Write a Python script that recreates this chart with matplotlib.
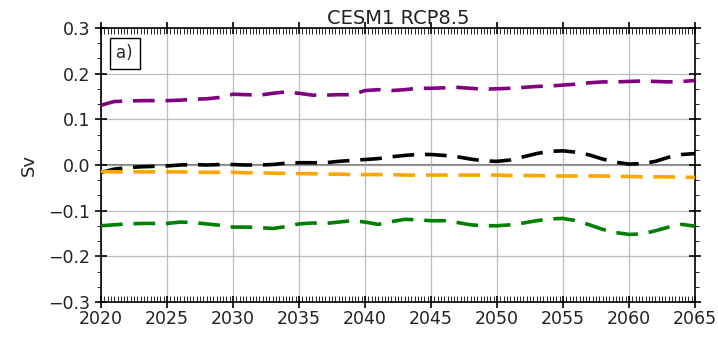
import numpy as np
import matplotlib as mpl
import matplotlib.pyplot as plt
from matplotlib.ticker import MultipleLocator, AutoMinorLocator
# -------------------------------------------------------------------------------------------------

mpl.use('AGG')

years = list(range(2020, 2066))

# Transport anomalies (Sv), one value per year
purple_sv = [0.131, 0.139, 0.140, 0.141, 0.141, 0.141, 0.142, 0.144, 0.145, 0.148,
	0.155, 0.154, 0.153, 0.157, 0.160, 0.157, 0.153, 0.153, 0.154, 0.154,
	0.163, 0.165, 0.163, 0.165, 0.168, 0.168, 0.169, 0.170, 0.168, 0.166,
	0.167, 0.168, 0.170, 0.172, 0.173, 0.175, 0.177, 0.180, 0.182, 0.182,
	0.183, 0.184, 0.183, 0.182, 0.183, 0.185]

black_sv = [-0.016, -0.009, -0.006, -0.004, -0.003, -0.002, 0.000, 0.001, 0.000, 0.001,
	0.001, 0.000, 0.000, 0.001, 0.004, 0.005, 0.005, 0.005, 0.008, 0.010,
	0.012, 0.014, 0.018, 0.021, 0.023, 0.023, 0.021, 0.018, 0.013, 0.009,
	0.008, 0.011, 0.018, 0.025, 0.030, 0.031, 0.028, 0.022, 0.013, 0.006,
	0.002, 0.003, 0.008, 0.017, 0.023, 0.025]

orange_sv = [-0.014, -0.015, -0.015, -0.015, -0.015, -0.015, -0.015, -0.016, -0.016, -0.016,
	-0.016, -0.017, -0.017, -0.018, -0.018, -0.019, -0.019, -0.020, -0.020, -0.021,
	-0.021, -0.021, -0.021, -0.022, -0.022, -0.022, -0.022, -0.022, -0.022, -0.022,
	-0.022, -0.023, -0.023, -0.023, -0.024, -0.024, -0.024, -0.024, -0.024, -0.025,
	-0.025, -0.026, -0.026, -0.026, -0.027, -0.027]

green_sv = [-0.133, -0.131, -0.129, -0.128, -0.128, -0.128, -0.125, -0.126, -0.129, -0.132,
	-0.136, -0.136, -0.137, -0.139, -0.135, -0.129, -0.127, -0.128, -0.125, -0.122,
	-0.125, -0.130, -0.124, -0.119, -0.120, -0.122, -0.122, -0.126, -0.131, -0.133,
	-0.133, -0.131, -0.127, -0.122, -0.118, -0.117, -0.122, -0.131, -0.141, -0.148,
	-0.152, -0.151, -0.144, -0.136, -0.130, -0.134]

(fig, ax) = plt.subplots(figsize=(7.18, 3.4), dpi=100)
fig.subplots_adjust(left=0.1407, right=0.968, top=0.9176, bottom=0.1118)

# Grid and zero line
ax.grid(which='major', color='darkgrey', linewidth=0.9, alpha=0.75)
ax.axhline(0, color='grey', linewidth=1.5, zorder=1)

for (vals, col) in ((purple_sv, 'purple'), (black_sv, 'black'),
		(orange_sv, 'orange'), (green_sv, 'green')):
	ax.plot(years, vals, color=col, linewidth=2.6, linestyle=(0, (6, 3)),
		solid_capstyle='round', zorder=3)

ax.set_xlim(2020, 2065)
ax.set_ylim(-0.3, 0.3)
ax.xaxis.set_major_locator(MultipleLocator(5))
ax.xaxis.set_minor_locator(MultipleLocator(0.25))
ax.yaxis.set_major_locator(MultipleLocator(0.1))
ax.yaxis.set_minor_locator(AutoMinorLocator(3))
ax.yaxis.set_major_formatter('{x:.1f}')

ax.tick_params(axis='x', which='major', direction='inout', length=8, width=1.2,
	top=True, labelsize=12.5, pad=2, labelcolor='#222222')
ax.tick_params(axis='x', which='minor', direction='in', length=4, width=0.6, top=True)
ax.tick_params(axis='y', which='major', direction='inout', length=8, width=1.2,
	right=True, labelsize=12.5, labelcolor='#222222')
ax.tick_params(axis='y', which='minor', direction='out', length=3, width=0.6, right=True)
for s in ax.spines.values():
	s.set_linewidth(1.2)

ax.set_ylabel('Sv', fontsize=13, labelpad=8, color='#222222')
ax.set_title('CESM1 RCP8.5', fontsize=14, pad=2, color='#222222')

ax.text(0.026, 0.94, 'a)', transform=ax.transAxes, fontsize=12, va='top', ha='left',
	color='#222222',
	bbox=dict(boxstyle='square,pad=0.4', facecolor='white', edgecolor='black', linewidth=1))

fig.savefig('out.png', dpi=100)
plt.close()
